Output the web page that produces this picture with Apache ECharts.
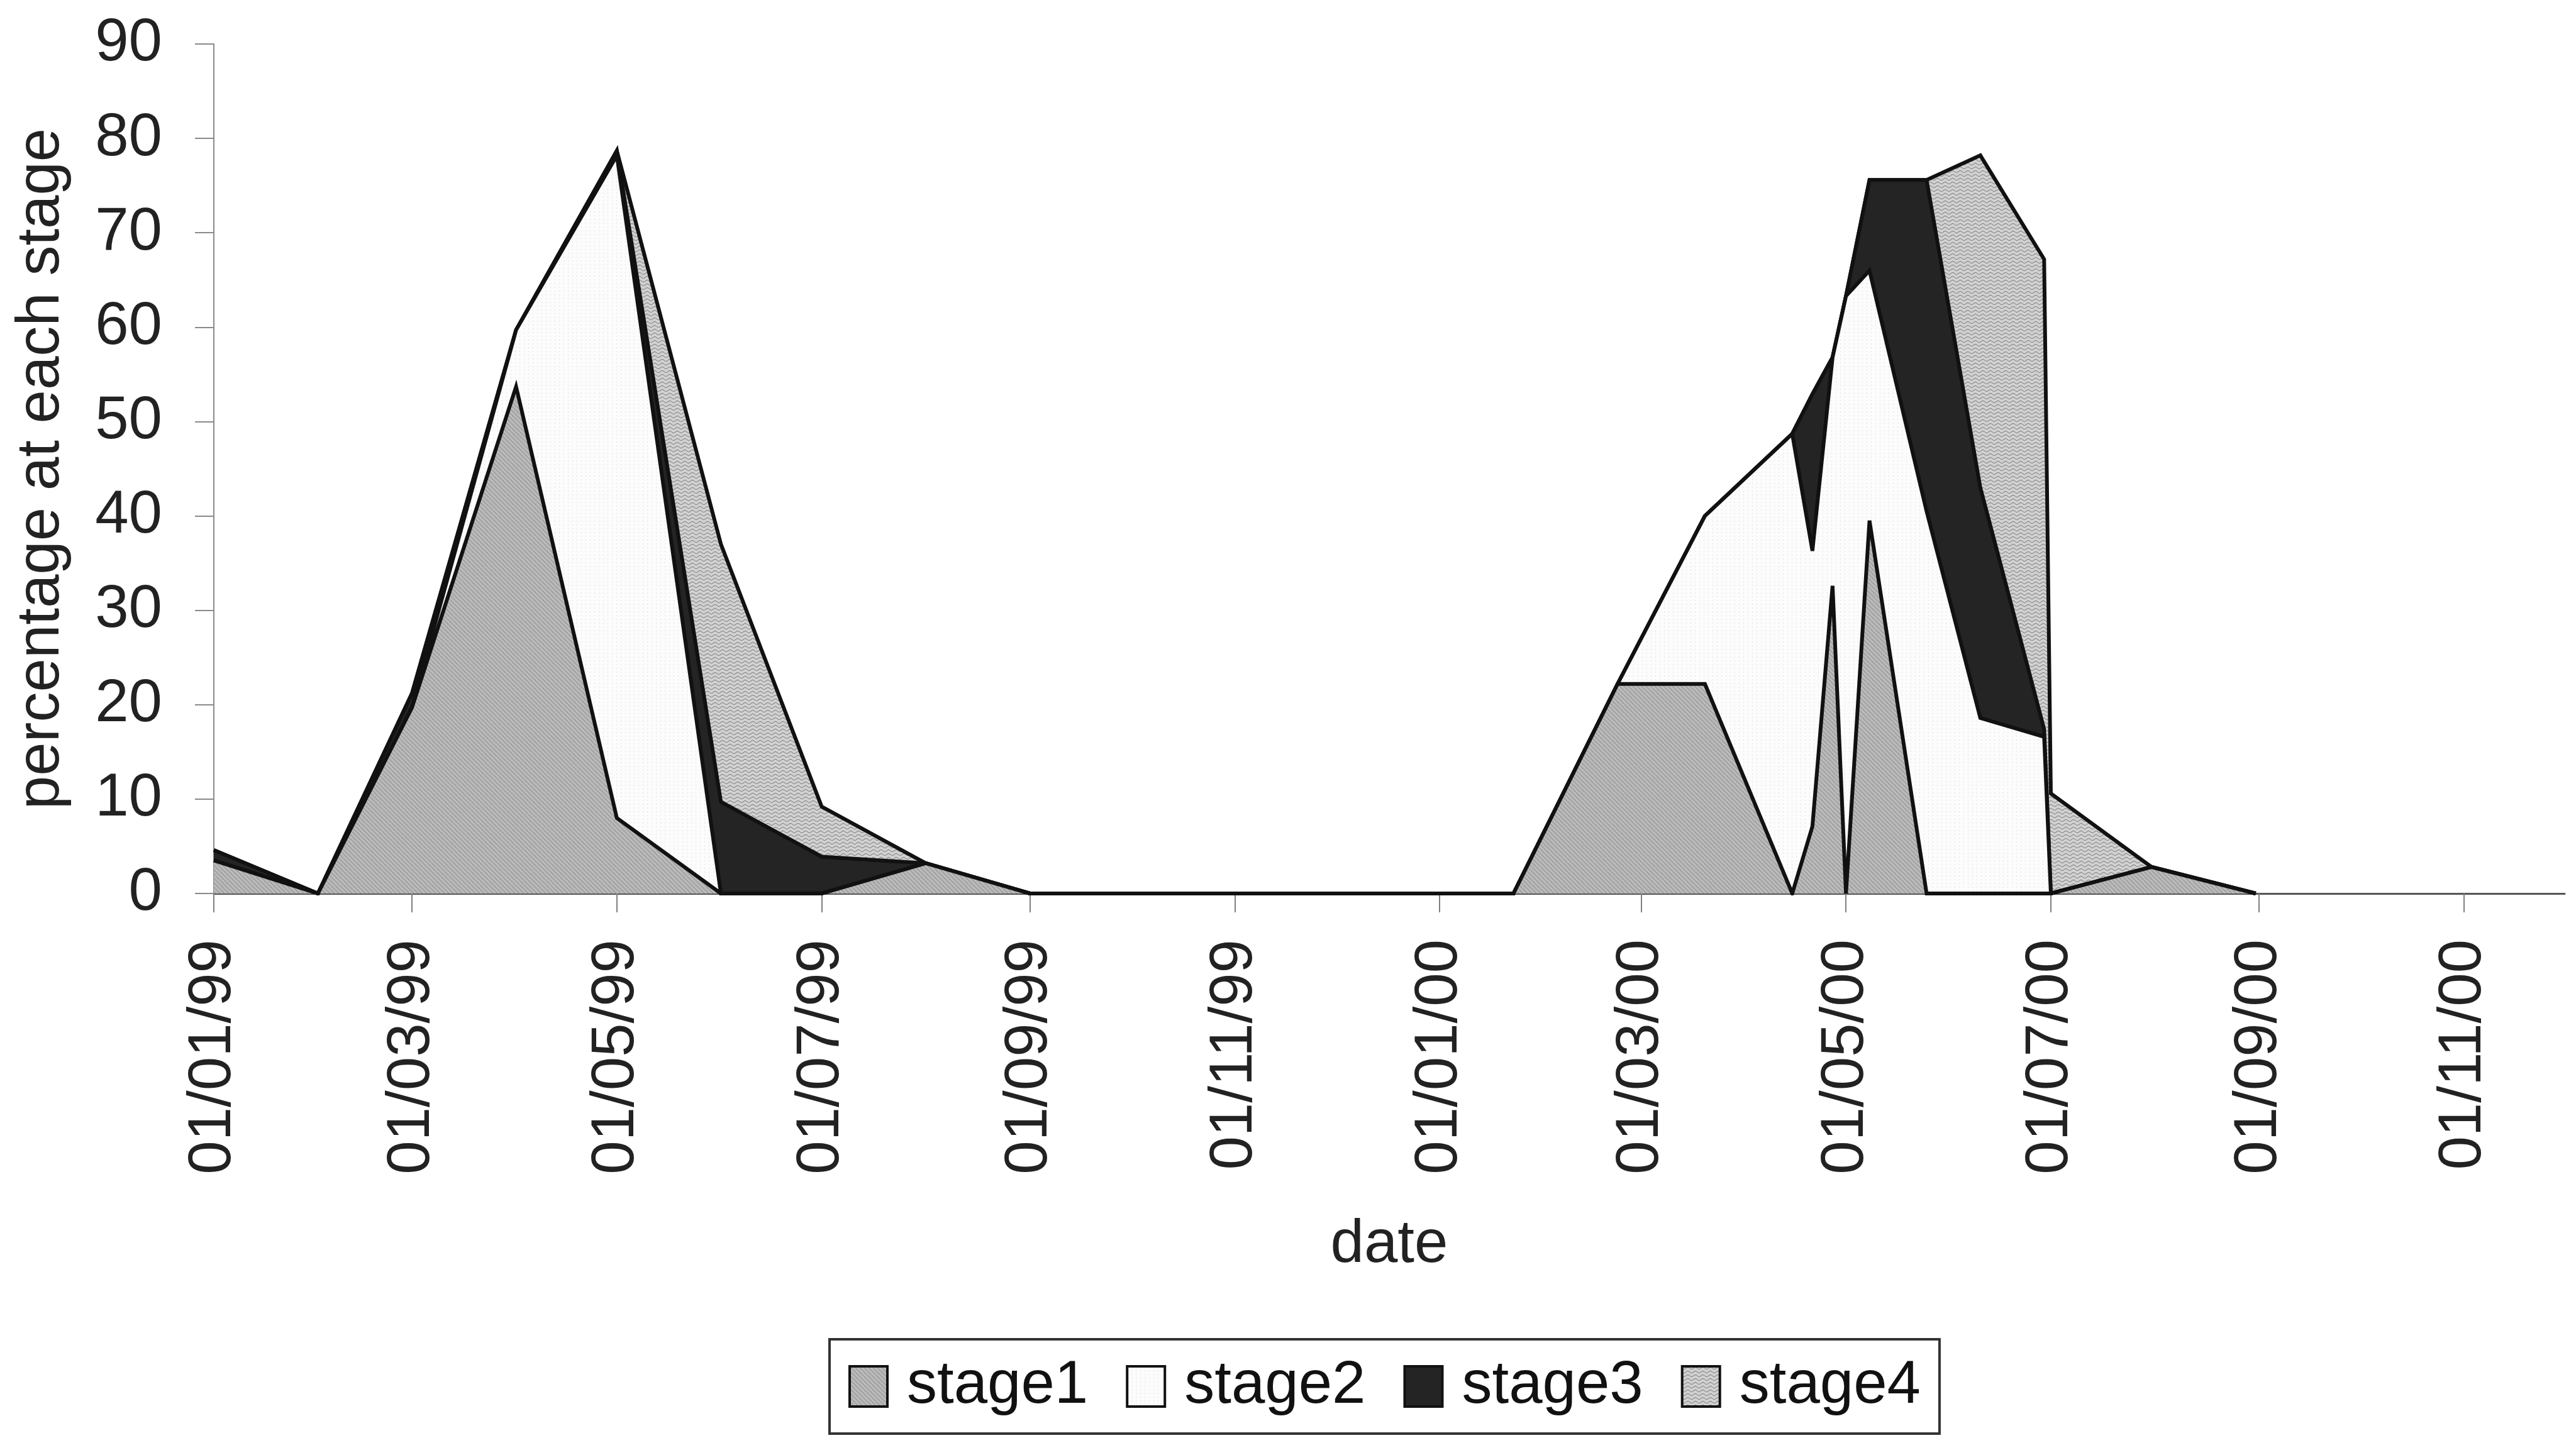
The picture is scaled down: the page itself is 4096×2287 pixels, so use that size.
<!DOCTYPE html>
<html>
<head>
<meta charset="utf-8">
<script src="https://cdn.jsdelivr.net/npm/echarts@6/dist/echarts.min.js"></script>
<style>
  html, body { margin: 0; padding: 0; background: #ffffff; }
  #chart { width: 4096px; height: 2287px; }
</style>
</head>
<body>
<div id="chart"></div>
<script>
// Sampling dates (dd/mm/yy) and the percentage of insects at each stage
const dates = [
  '01/01/99', '01/02/99', '01/03/99', '01/04/99', '01/05/99', '01/06/99',
  '01/07/99', '01/08/99', '01/09/99',
  '23/01/00', '23/02/00', '20/03/00', '15/04/00', '21/04/00', '27/04/00',
  '01/05/00', '08/05/00', '25/05/00', '10/06/00', '29/06/00', '01/07/00',
  '31/07/00', '31/08/00'
];
const stage1 = [3.5, 0, 19.7, 53.7, 8.0, 0, 0, 3.2, 0,
                0, 22.2, 22.2, 0, 7.1, 32.6, 0, 39.5, 0, 0, 0, 0, 2.8, 0];
const stage2 = [0, 0, 0, 6.0, 70.2, 0, 0, 0, 0,
                0, 0, 17.8, 48.7, 29.2, 24.2, 63.3, 26.5, 40.5, 18.6, 16.6, 0, 0, 0];
const stage3 = [1.1, 0, 1.5, 0, 0.5, 9.7, 3.9, 0, 0,
                0, 0, 0, 0, 16.6, 0, 0, 9.6, 35.1, 24.4, 0.8, 0, 0, 0];
const stage4 = [0, 0, 0, 0, 0, 27.3, 5.3, 0, 0,
                0, 0, 0, 0, 0, 0, 0, 0, 0, 35.2, 49.8, 10.6, 0, 0];

const seriesNames = ['stage1', 'stage2', 'stage3', 'stage4'];
const tickDates = ['01/01/99', '01/03/99', '01/05/99', '01/07/99', '01/09/99', '01/11/99',
                   '01/01/00', '01/03/00', '01/05/00', '01/07/00', '01/09/00', '01/11/00'];
const axisStart = '01/01/99';
const axisEnd = '01/12/00';
const yTicks = { min: 0, max: 90, step: 10 };

const FONT = 'Liberation Sans, Arial, sans-serif';

function toTime(s) {
  const [d, m, y] = s.split('/').map(Number);
  return Date.UTC(y < 50 ? 2000 + y : 1900 + y, m - 1, d);
}
function pad(n) { return (n < 10 ? '0' : '') + n; }
function formatDate(v) {
  const d = new Date(v);
  return pad(d.getUTCDate()) + '/' + pad(d.getUTCMonth() + 1) + '/' + pad(d.getUTCFullYear() % 100);
}

// Fill patterns for the stacked areas
function makePattern(w, h, draw) {
  const c = document.createElement('canvas');
  c.width = w; c.height = h;
  const g = c.getContext('2d');
  draw(g, w, h);
  return { image: c, repeat: 'repeat' };
}
const fillStage1 = makePattern(7, 7, (g, w, h) => {
  g.fillStyle = '#bababa'; g.fillRect(0, 0, w, h);
  g.strokeStyle = '#989898'; g.lineWidth = 1.4;
  g.beginPath();
  for (const k of [-w, 0, w]) { g.moveTo(k, 0); g.lineTo(k + w, h); }
  g.stroke();
});
const fillStage2 = makePattern(7, 6, (g, w, h) => {
  g.fillStyle = '#fcfcfc'; g.fillRect(0, 0, w, h);
  g.fillStyle = '#e2e2e2';
  g.fillRect(0, 0, 1, 2);
});
const fillStage3 = '#242424';
const fillStage4 = makePattern(12, 6, (g, w, h) => {
  g.fillStyle = '#d2d2d2'; g.fillRect(0, 0, w, h);
  g.strokeStyle = '#8e8e8e'; g.lineWidth = 1.2;
  g.beginPath();
  for (let x = 0; x <= w; x++) {
    const y = 3 + 1.6 * Math.sin(2 * Math.PI * x / w);
    if (x === 0) g.moveTo(x, y); else g.lineTo(x, y);
  }
  g.stroke();
});
const fills = [fillStage1, fillStage2, fillStage3, fillStage4];
const values = [stage1, stage2, stage3, stage4];

// Running totals: each stage is drawn as the band between its total and the one below,
// by painting the tallest total first and the lower totals over it.
const totals = values.map((_, i) =>
  dates.map((_, j) => values.slice(0, i + 1).reduce((s, arr) => s + arr[j], 0)));

const chart = echarts.init(document.getElementById('chart'), null, { width: 4096, height: 2287, renderer: 'canvas' });

const series = seriesNames.map((name, i) => ({
  name,
  type: 'line',
  data: dates.map((d, j) => [toTime(d), +totals[i][j].toFixed(2)]),
  showSymbol: false,
  symbol: 'none',
  lineStyle: { color: '#111111', width: 6, join: 'miter', miterLimit: 4 },
  areaStyle: { color: fills[i], opacity: 1, origin: 'start' },
  itemStyle: { color: '#111111' },
  emphasis: { disabled: true },
  z: 10 - i
})).reverse();

const tickTimes = tickDates.map(toTime);

chart.setOption({
  animation: false,
  backgroundColor: '#ffffff',
  grid: { left: 340, right: 18, top: 70, bottom: 866, containLabel: false },
  xAxis: {
    type: 'value',
    min: toTime(axisStart),
    max: toTime(axisEnd),
    splitLine: { show: false },
    axisLine: { show: true, onZero: false, lineStyle: { color: '#555555', width: 3 } },
    axisTick: { show: true, customValues: tickTimes, length: 30, inside: false,
                lineStyle: { color: '#808080', width: 2 } },
    axisLabel: { customValues: tickTimes, rotate: 90, margin: 73, formatter: formatDate,
                 fontFamily: FONT, fontSize: 96, color: '#222222' },
    name: 'date',
    nameLocation: 'middle',
    nameGap: 512,
    nameTextStyle: { fontFamily: FONT, fontSize: 96, color: '#222222' }
  },
  yAxis: {
    type: 'value',
    min: yTicks.min,
    max: yTicks.max,
    interval: yTicks.step,
    splitLine: { show: false },
    axisLine: { show: true, lineStyle: { color: '#8a8a8a', width: 2 } },
    axisTick: { show: true, length: 30, inside: false, lineStyle: { color: '#8a8a8a', width: 2 } },
    axisLabel: { margin: 82, fontFamily: FONT, fontSize: 96, color: '#222222' },
    name: 'percentage at each stage',
    nameLocation: 'middle',
    nameRotate: 90,
    nameGap: 225,
    nameTextStyle: { fontFamily: FONT, fontSize: 96, color: '#222222' }
  },
  legend: {
    show: true,
    orient: 'horizontal',
    left: 1319,
    top: 2130,
    padding: [27, 30, 27, 30],
    itemGap: 60,
    itemWidth: 60,
    itemHeight: 64,
    borderColor: '#333333',
    borderWidth: 4,
    selectedMode: false,
    textStyle: { fontFamily: FONT, fontSize: 96, color: '#111111', padding: [0, 0, 0, 26] },
    data: seriesNames.map((name, i) => ({
      name,
      icon: 'rect',
      itemStyle: { color: fills[i], borderColor: '#111111', borderWidth: 4 }
    }))
  },
  series
});
</script>
</body>
</html>
